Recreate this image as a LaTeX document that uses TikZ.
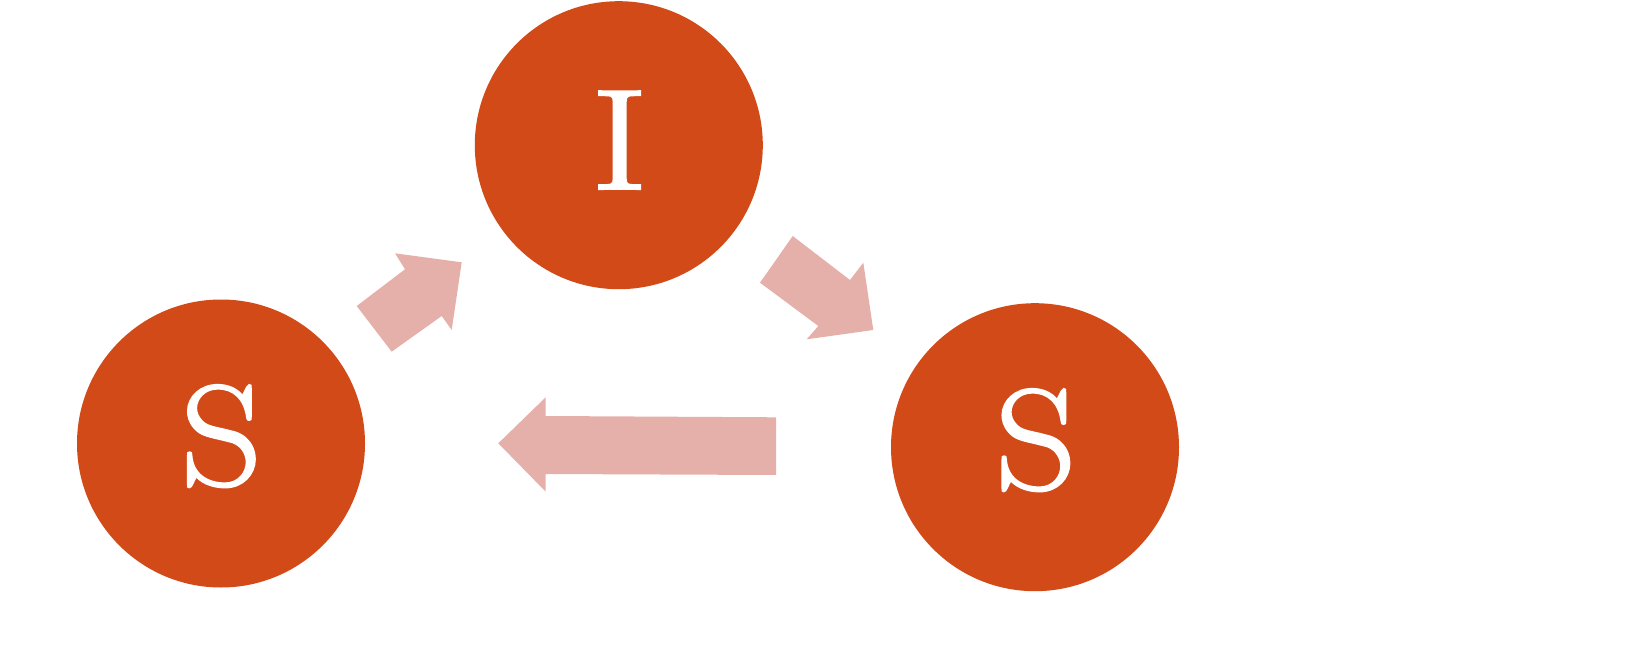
\documentclass[tikz,border=0pt]{standalone}
\usepackage{fontspec}
\usepackage{graphicx}
\newfontfamily\lblfont{Latin Modern Roman}[FakeBold=1.6]
\definecolor{circ}{HTML}{D24A18}
\definecolor{arr}{HTML}{E6B0AA}
\begin{document}
\begin{tikzpicture}[x=1pt,y=-1pt,
  state/.style={circle,fill=circ,draw=none,minimum size=288pt,inner sep=0pt},
  lbl/.style={text=white,font=\lblfont\fontsize{143}{145}\selectfont,anchor=base,inner sep=0pt},
  blockarrow/.style={fill=arr,draw=none}]
\useasboundingbox (0,0) rectangle (1650,666);
\node[state] (I) at (618.8,145.2) {};
\node[state] (S1) at (221,443.5) {};
\node[state] (S2) at (1035,447.2) {};
\node[lbl] (tI) at (619.7,189) {\scalebox{1.2}[1]{I}};
\node[lbl] (tS1) at (221.5,485) {\scalebox{1.11}[1]{S}};
\node[lbl] (tS2) at (1036,489) {\scalebox{1.11}[1]{S}};
% arrow S1 -> I
\fill[blockarrow] (356.7,306) -- (405,269.3) -- (395,253.3) -- (461.7,262.3) -- (451.7,330) -- (441.7,316) -- (391.7,351.7) -- cycle;
% arrow I -> S2
\fill[blockarrow] (792.7,236) -- (850,280) -- (863.3,262.7) -- (873.3,330) -- (806.7,339.3) -- (818.3,326) -- (760,282.7) -- cycle;
% arrow S2 -> S1
\fill[blockarrow] (776,417.3) -- (545.7,416) -- (545.7,397.3) -- (498.3,443.3) -- (545.7,491.7) -- (545.7,474) -- (776,475) -- cycle;
\end{tikzpicture}
\end{document}
